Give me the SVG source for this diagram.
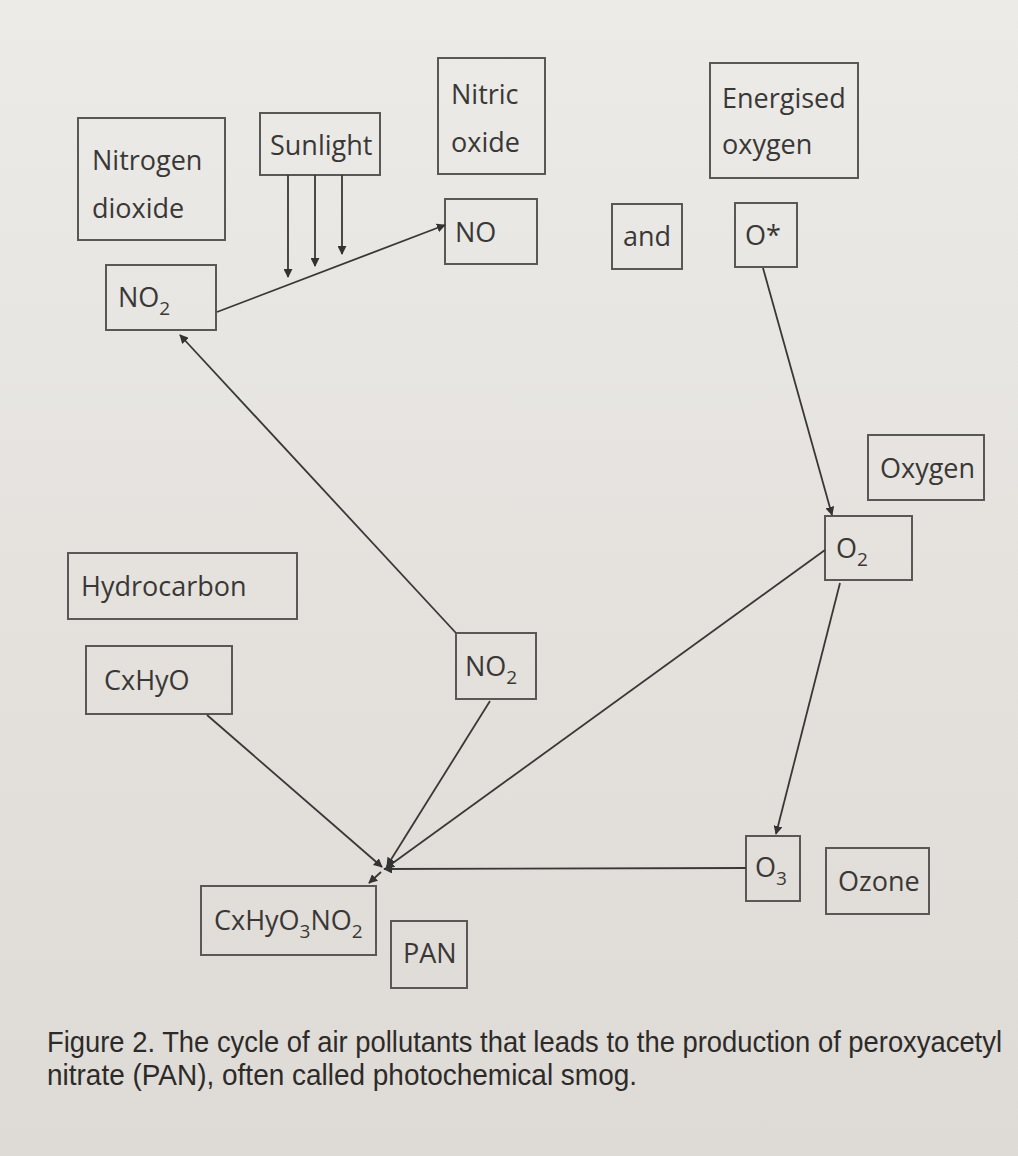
<svg xmlns="http://www.w3.org/2000/svg" width="1018" height="1156" viewBox="0 0 1018 1156">
<defs>
<linearGradient id="bg" x1="0" y1="0" x2="0" y2="1">
<stop offset="0" stop-color="#ecebe8"/>
<stop offset="0.5" stop-color="#e5e2de"/>
<stop offset="1" stop-color="#dedad5"/>
</linearGradient>
<marker id="ah" viewBox="0 0 10 10" refX="9" refY="5" markerWidth="9" markerHeight="9" markerUnits="userSpaceOnUse" orient="auto">
<path d="M0,0 L10,5 L0,10 z" fill="#333"/>
</marker>
<style>
.box{fill:none;stroke:#5a5856;stroke-width:2}
.t{font-family:"Open Sans","Liberation Sans",sans-serif;font-size:27px;fill:#3a3836}
.sub{font-size:19px}
.ln{stroke:#3a3836;stroke-width:1.8;fill:none}
.arr{marker-end:url(#ah)}
.cap{font-family:"Liberation Sans",sans-serif;font-size:24px;fill:#2d2b2a}
</style>
</defs>
<rect width="1018" height="1156" fill="url(#bg)"/>

<g id="nitrogen-dioxide-label"><rect class="box" x="78" y="118" width="147" height="122"/><text class="t" x="92" y="170">Nitrogen</text><text class="t" x="92" y="218">dioxide</text></g>
<g id="sunlight"><rect class="box" x="260" y="113" width="120" height="62"/><text class="t" x="270" y="155">Sunlight</text></g>
<g id="nitric-oxide-label"><rect class="box" x="438" y="58" width="107" height="116"/><text class="t" x="451" y="104">Nitric</text><text class="t" x="451" y="152">oxide</text></g>
<g id="no"><rect class="box" x="445" y="199" width="92" height="65"/><text class="t" x="455" y="242">NO</text></g>
<g id="no2-top"><rect class="box" x="106" y="265" width="110" height="65"/><text class="t" x="118" y="307">NO<tspan class="sub" dy="8">2</tspan></text></g>
<g id="and"><rect class="box" x="612" y="204" width="70" height="65"/><text class="t" x="623" y="246">and</text></g>
<g id="energised-oxygen-label"><rect class="box" x="710" y="63" width="148" height="115"/><text class="t" x="722" y="108">Energised</text><text class="t" x="722" y="154">oxygen</text></g>
<g id="o-star"><rect class="box" x="735" y="203" width="62" height="64"/><text class="t" x="745" y="245">O*</text></g>
<g id="oxygen-label"><rect class="box" x="868" y="435" width="116" height="65"/><text class="t" x="880" y="478">Oxygen</text></g>
<g id="o2"><rect class="box" x="825" y="516" width="87" height="64"/><text class="t" x="836" y="558">O<tspan class="sub" dy="8">2</tspan></text></g>
<g id="hydrocarbon-label"><rect class="box" x="68" y="553" width="229" height="66"/><text class="t" x="81" y="596">Hydrocarbon</text></g>
<g id="cxhyo"><rect class="box" x="86" y="646" width="146" height="68"/><text class="t" x="104" y="690">CxHyO</text></g>
<g id="no2-mid"><rect class="box" x="456" y="633" width="80" height="66"/><text class="t" x="465" y="676">NO<tspan class="sub" dy="8">2</tspan></text></g>
<g id="pan-formula"><rect class="box" x="201" y="886" width="175" height="69"/><text class="t" x="214" y="930">CxHyO<tspan class="sub" dy="8">3</tspan><tspan dy="-8">NO</tspan><tspan class="sub" dy="8">2</tspan></text></g>
<g id="pan"><rect class="box" x="391" y="921" width="76" height="67"/><text class="t" x="403" y="963">PAN</text></g>
<g id="o3"><rect class="box" x="746" y="836" width="54" height="65"/><text class="t" x="755" y="877">O<tspan class="sub" dy="8">3</tspan></text></g>
<g id="ozone-label"><rect class="box" x="826" y="848" width="103" height="66"/><text class="t" x="838" y="891">Ozone</text></g>

<g id="connectors">
<line class="ln arr" x1="217" y1="312" x2="445" y2="225"/>
<line class="ln arr" x1="288" y1="175" x2="288" y2="277"/>
<line class="ln arr" x1="315" y1="175" x2="315" y2="266"/>
<line class="ln arr" x1="342" y1="175" x2="342" y2="254"/>
<line class="ln arr" x1="456" y1="633" x2="180" y2="335"/>
<line class="ln arr" x1="763" y1="268" x2="832" y2="515"/>
<line class="ln arr" x1="840" y1="583" x2="776" y2="834"/>
<line class="ln arr" x1="825" y1="550" x2="386" y2="868"/>
<line class="ln arr" x1="746" y1="868" x2="384" y2="869"/>
<line class="ln arr" x1="490" y1="701" x2="387" y2="866"/>
<line class="ln arr" x1="207" y1="715" x2="382" y2="867"/>
<line class="ln arr" x1="381" y1="872" x2="369" y2="883"/>
</g>

<g id="caption">
<g transform="translate(47,1052) scale(1,1.2)"><text class="cap" x="0" y="0" textLength="955" lengthAdjust="spacingAndGlyphs">Figure 2. The cycle of air pollutants that leads to the production of peroxyacetyl</text></g>
<g transform="translate(47,1085) scale(1,1.2)"><text class="cap" x="0" y="0" textLength="590" lengthAdjust="spacingAndGlyphs">nitrate (PAN), often called photochemical smog.</text></g>
</g>
</svg>
